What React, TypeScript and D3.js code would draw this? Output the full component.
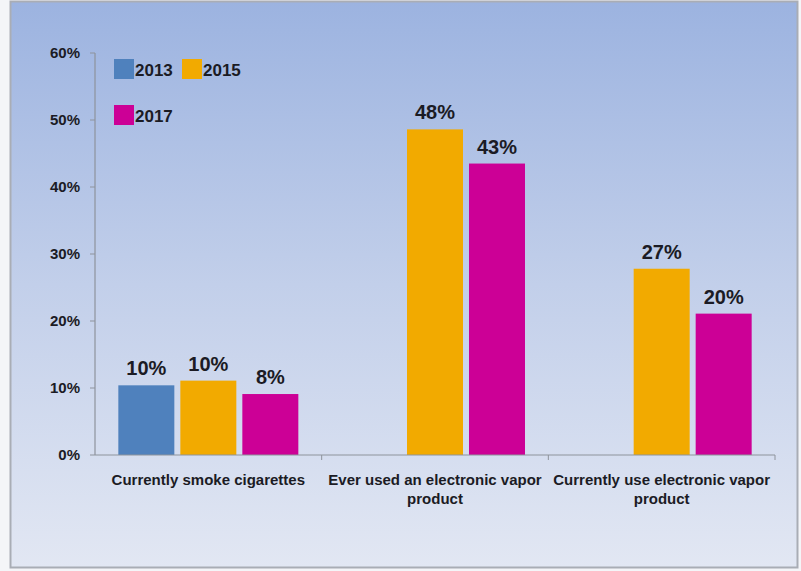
import React from "react";
import * as d3 from "d3";

const categories = [
  ["Currently smoke cigarettes"],
  ["Ever used an electronic vapor", "product"],
  ["Currently use electronic vapor", "product"],
];
const seriesNames = ["2013", "2015", "2017"];
const values2013: (number | null)[] = [10.4, null, null];
const values2015: (number | null)[] = [11.1, 48.6, 27.8];
const values2017: (number | null)[] = [9.1, 43.5, 21.1];
const labels2013 = ["10%", "", ""];
const labels2015 = ["10%", "48%", "27%"];
const labels2017 = ["8%", "43%", "20%"];
const yTicks = [0, 10, 20, 30, 40, 50, 60];
const colors = ["#4f81bd", "#f2aa00", "#cc0096"];

const W = 801;
const H = 571;
const plot = { left: 95, right: 775, top: 53, bottom: 455 };
const FONT = "'Liberation Sans', Arial, sans-serif";
const TEXT = "#1b1b24";

export default function App() {
  const y = d3.scaleLinear().domain([0, 60]).range([plot.bottom, plot.top]);
  const x = d3
    .scaleBand<number>()
    .domain(categories.map((_, i) => i))
    .range([plot.left, plot.right]);
  const barW = 56;
  const step = 62;
  const series = [
    { vals: values2013, labels: labels2013, off: -step },
    { vals: values2015, labels: labels2015, off: 0 },
    { vals: values2017, labels: labels2017, off: step },
  ];
  const bw = x.bandwidth();

  return (
    <svg
      width={W}
      height={H}
      style={{ position: "absolute", left: 0, top: 0, display: "block" }}
    >
      <defs>
        <linearGradient id="bg" x1="0" y1="0" x2="0" y2="1">
          <stop offset="0" stopColor="#9cb3e0" />
          <stop offset="0.5" stopColor="#c2cfea" />
          <stop offset="1" stopColor="#e2e7f3" />
        </linearGradient>
      </defs>
      <rect x={0} y={0} width={W} height={H} fill="#f4f5f8" />
      <rect
        x={10.5}
        y={1.5}
        width={787}
        height={566}
        fill="url(#bg)"
        stroke="#a9adb5"
        strokeWidth={2}
      />
      {/* bars */}
      {series.map((s, si) =>
        s.vals.map((v, ci) => {
          if (v == null) return null;
          const cx = (x(ci) as number) + bw / 2 + s.off;
          return (
            <g key={`${si}-${ci}`}>
              <rect
                x={cx - barW / 2}
                y={y(v)}
                width={barW}
                height={plot.bottom - y(v)}
                fill={colors[si]}
              />
              <text
                x={cx}
                y={y(v) - 10}
                textAnchor="middle"
                fontFamily={FONT}
                fontWeight="bold"
                fontSize={20}
                fill={TEXT}
              >
                {s.labels[ci]}
              </text>
            </g>
          );
        })
      )}
      {/* y axis */}
      <line
        x1={plot.left}
        x2={plot.left}
        y1={y(60)}
        y2={plot.bottom}
        stroke="#8e939c"
        strokeWidth={1.2}
      />
      {yTicks.map((t) => (
        <g key={t}>
          <line
            x1={plot.left - 5}
            x2={plot.left}
            y1={y(t)}
            y2={y(t)}
            stroke="#8e939c"
          />
          <text
            x={80}
            y={y(t) + 5}
            textAnchor="end"
            fontFamily={FONT}
            fontWeight="bold"
            fontSize={15}
            fill={TEXT}
          >
            {`${t}%`}
          </text>
        </g>
      ))}
      {/* x axis */}
      <line
        x1={plot.left}
        x2={plot.right}
        y1={plot.bottom}
        y2={plot.bottom}
        stroke="#8e939c"
        strokeWidth={1.2}
      />
      {categories.map((_, i) => (
        <line
          key={i}
          x1={(x(i) as number) + bw}
          x2={(x(i) as number) + bw}
          y1={plot.bottom}
          y2={plot.bottom + 5}
          stroke="#8e939c"
        />
      ))}
      {categories.map((lines, i) => (
        <text
          key={i}
          x={(x(i) as number) + bw / 2}
          y={485}
          textAnchor="middle"
          fontFamily={FONT}
          fontWeight="bold"
          fontSize={15}
          fill={TEXT}
        >
          {lines.map((l, li) => (
            <tspan key={li} x={(x(i) as number) + bw / 2} dy={li === 0 ? 0 : 19}>
              {l}
            </tspan>
          ))}
        </text>
      ))}
      {/* legend */}
      {seriesNames.map((n, i) => {
        const lx = i === 1 ? 182 : 114;
        const ly = i === 2 ? 105 : 59;
        return (
          <g key={n}>
            <rect x={lx} y={ly} width={20} height={20} fill={colors[i]} />
            <text
              x={lx + 21}
              y={ly + 17}
              fontFamily={FONT}
              fontWeight="bold"
              fontSize={17}
              fill={TEXT}
            >
              {n}
            </text>
          </g>
        );
      })}
    </svg>
  );
}
